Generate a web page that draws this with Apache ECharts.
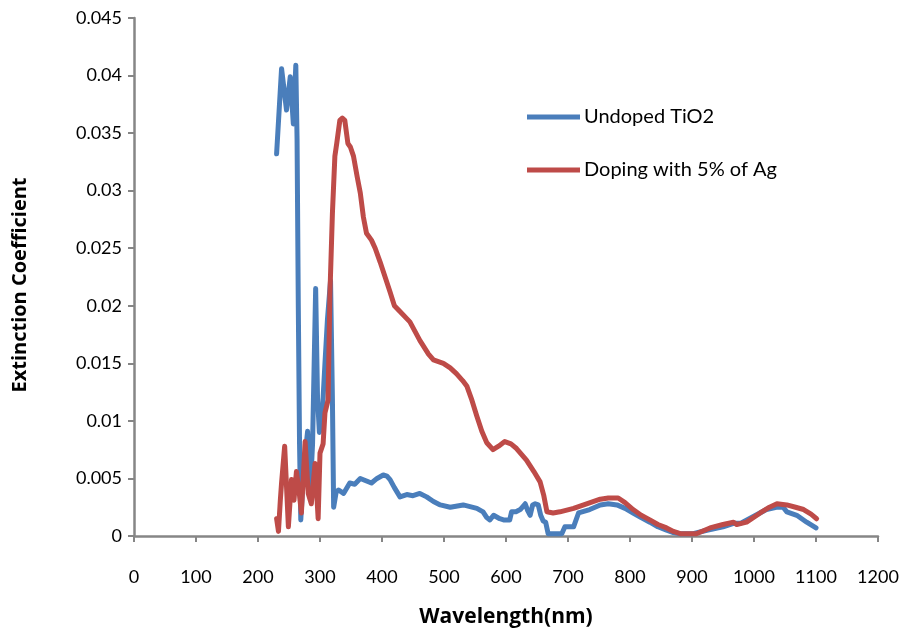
<!DOCTYPE html>
<html>
<head>
<meta charset="utf-8">
<script src="https://cdn.jsdelivr.net/npm/echarts@6/dist/echarts.min.js"></script>
<style>html,body{margin:0;padding:0;background:#fff;}#c{width:907px;height:633px;}</style>
</head>
<body>
<div id="c"></div>
<script>
const seriesNames = ['Undoped TiO2', 'Doping with 5% of Ag'];
const xAxisTitle = 'Wavelength(nm)';
const yAxisTitle = 'Extinction Coefficient';

const undopedWavelength = [230,238,246,252,257,261,263,265,267,269,274,280,284,288,293,296,299,304,308,312,317,320,322,326,330,338,348,356,365,374,383,392,402,408,413,420,429,440,450,461,472,483,494,510,531,553,563,569,574,580,590,596,606,609,616,623,631,635,639,643,647,652,656,660,664,668,680,690,695,709,712,717,735,752,765,779,792,805,818,832,845,859,870,881,902,924,950,967,978,999,1020,1036,1047,1053,1069,1085,1100];
const undopedValues = [0.0332,0.0406,0.0370,0.0399,0.0358,0.0409,0.0345,0.0200,0.0080,0.0014,0.0060,0.0091,0.0035,0.0080,0.0215,0.0120,0.0090,0.0110,0.0150,0.0188,0.0222,0.0120,0.0025,0.0038,0.0040,0.0037,0.0046,0.0045,0.0050,0.0048,0.0046,0.0050,0.0053,0.0052,0.0049,0.0042,0.0034,0.0036,0.0035,0.0037,0.0034,0.0030,0.0027,0.0025,0.0027,0.0024,0.0021,0.0016,0.0014,0.0018,0.0015,0.0014,0.0014,0.0021,0.0021,0.0023,0.0028,0.0022,0.0018,0.0027,0.0028,0.0027,0.0018,0.0013,0.0012,0.0002,0.0002,0.0002,0.0008,0.0008,0.0008,0.0020,0.0023,0.0027,0.0028,0.0027,0.0024,0.0020,0.0016,0.0012,0.0008,0.0005,0.0003,0.0002,0.0002,0.0005,0.0008,0.0011,0.0011,0.0017,0.0023,0.0025,0.0025,0.0021,0.0018,0.0012,0.0007];

const agWavelength = [230,233,236,238,243,249,254,258,262,266,270,276,281,286,292,297,300,305,308,313,316,320,324,327,332,336,340,345,349,354,360,365,370,375,383,389,397,405,413,420,429,445,461,475,483,499,510,520,530,537,545,553,561,569,579,588,598,608,617,625,633,645,655,661,666,676,687,709,730,752,765,781,792,805,818,832,845,859,870,881,907,929,950,967,972,988,1010,1025,1037,1053,1067,1080,1092,1101];
const agValues = [0.0015,0.0004,0.0031,0.0046,0.0078,0.0008,0.0049,0.0031,0.0056,0.0040,0.0020,0.0082,0.0037,0.0028,0.0063,0.0015,0.0072,0.0080,0.0107,0.0118,0.0210,0.0280,0.0330,0.0341,0.0361,0.0363,0.0361,0.0341,0.0338,0.0330,0.0312,0.0298,0.0277,0.0263,0.0257,0.0250,0.0238,0.0225,0.0212,0.0200,0.0195,0.0186,0.0170,0.0158,0.0153,0.0150,0.0146,0.0141,0.0135,0.0130,0.0118,0.0104,0.0091,0.0081,0.0075,0.0078,0.0082,0.0080,0.0076,0.0071,0.0066,0.0056,0.0047,0.0035,0.0021,0.0020,0.0021,0.0024,0.0028,0.0032,0.0033,0.0033,0.0029,0.0023,0.0018,0.0014,0.0010,0.0007,0.0004,0.0002,0.0002,0.0007,0.0010,0.0012,0.0010,0.0012,0.0020,0.0025,0.0028,0.0027,0.0025,0.0023,0.0019,0.0015];

const zip = (xs, ys) => xs.map((x, i) => [x, ys[i]]);
const FONT = 'Lato';
const TITLE_FONT = 'Open Sans';
const axisGray = '#868686';
const blue = '#4A7EBB', red = '#BE4B48';

const chart = echarts.init(document.getElementById('c'), null, {renderer: 'canvas'});
chart.setOption({
  animation: false,
  backgroundColor: '#fff',
  grid: {left: 134, right: 29, top: 18, bottom: 97, containLabel: false},
  legend: {
    orient: 'vertical', left: 522, top: 102,
    itemWidth: 53, itemHeight: 5, itemGap: 33,
    icon: 'rect',
    textStyle: {fontFamily: FONT, fontSize: 20, color: '#000', padding: [0,0,0,-1]},
    data: [
      {name: seriesNames[0], itemStyle: {color: blue}},
      {name: seriesNames[1], itemStyle: {color: red}}
    ]
  },
  xAxis: {
    type: 'value', min: 0, max: 1200, interval: 100,
    name: xAxisTitle, nameLocation: 'middle', nameGap: 71,
    nameTextStyle: {fontFamily: TITLE_FONT, fontSize: 21, fontWeight: 'bold', color: '#000'},
    axisLine: {lineStyle: {color: axisGray, width: 2.5}},
    axisTick: {inside: false, length: 6, lineStyle: {color: axisGray, width: 2}},
    axisLabel: {fontFamily: FONT, fontSize: 18, color: '#000', margin: 32,
      formatter: v => String(v)},
    splitLine: {show: false}
  },
  yAxis: {
    type: 'value', min: 0, max: 0.045, interval: 0.005,
    name: yAxisTitle, nameLocation: 'middle', nameGap: 104, nameRotate: 90,
    nameTextStyle: {fontFamily: TITLE_FONT, fontSize: 20, fontWeight: 'bold', color: '#000',
      padding: [0, 16, 0, 0]},
    axisLine: {show: true, lineStyle: {color: axisGray, width: 2.5}},
    axisTick: {show: true, inside: false, length: 6, lineStyle: {color: axisGray, width: 2}},
    axisLabel: {fontFamily: FONT, fontSize: 18, color: '#000', margin: 12,
      formatter: v => String(+v.toFixed(3))},
    splitLine: {show: false}
  },
  series: [
    {name: seriesNames[0], type: 'line', data: zip(undopedWavelength, undopedValues),
      showSymbol: false, symbol: 'none',
      lineStyle: {color: blue, width: 5, join: 'round', cap: 'round'},
      itemStyle: {color: blue}},
    {name: seriesNames[1], type: 'line', data: zip(agWavelength, agValues),
      showSymbol: false, symbol: 'none',
      lineStyle: {color: red, width: 5, join: 'round', cap: 'round'},
      itemStyle: {color: red}}
  ]
});
</script>
</body>
</html>
